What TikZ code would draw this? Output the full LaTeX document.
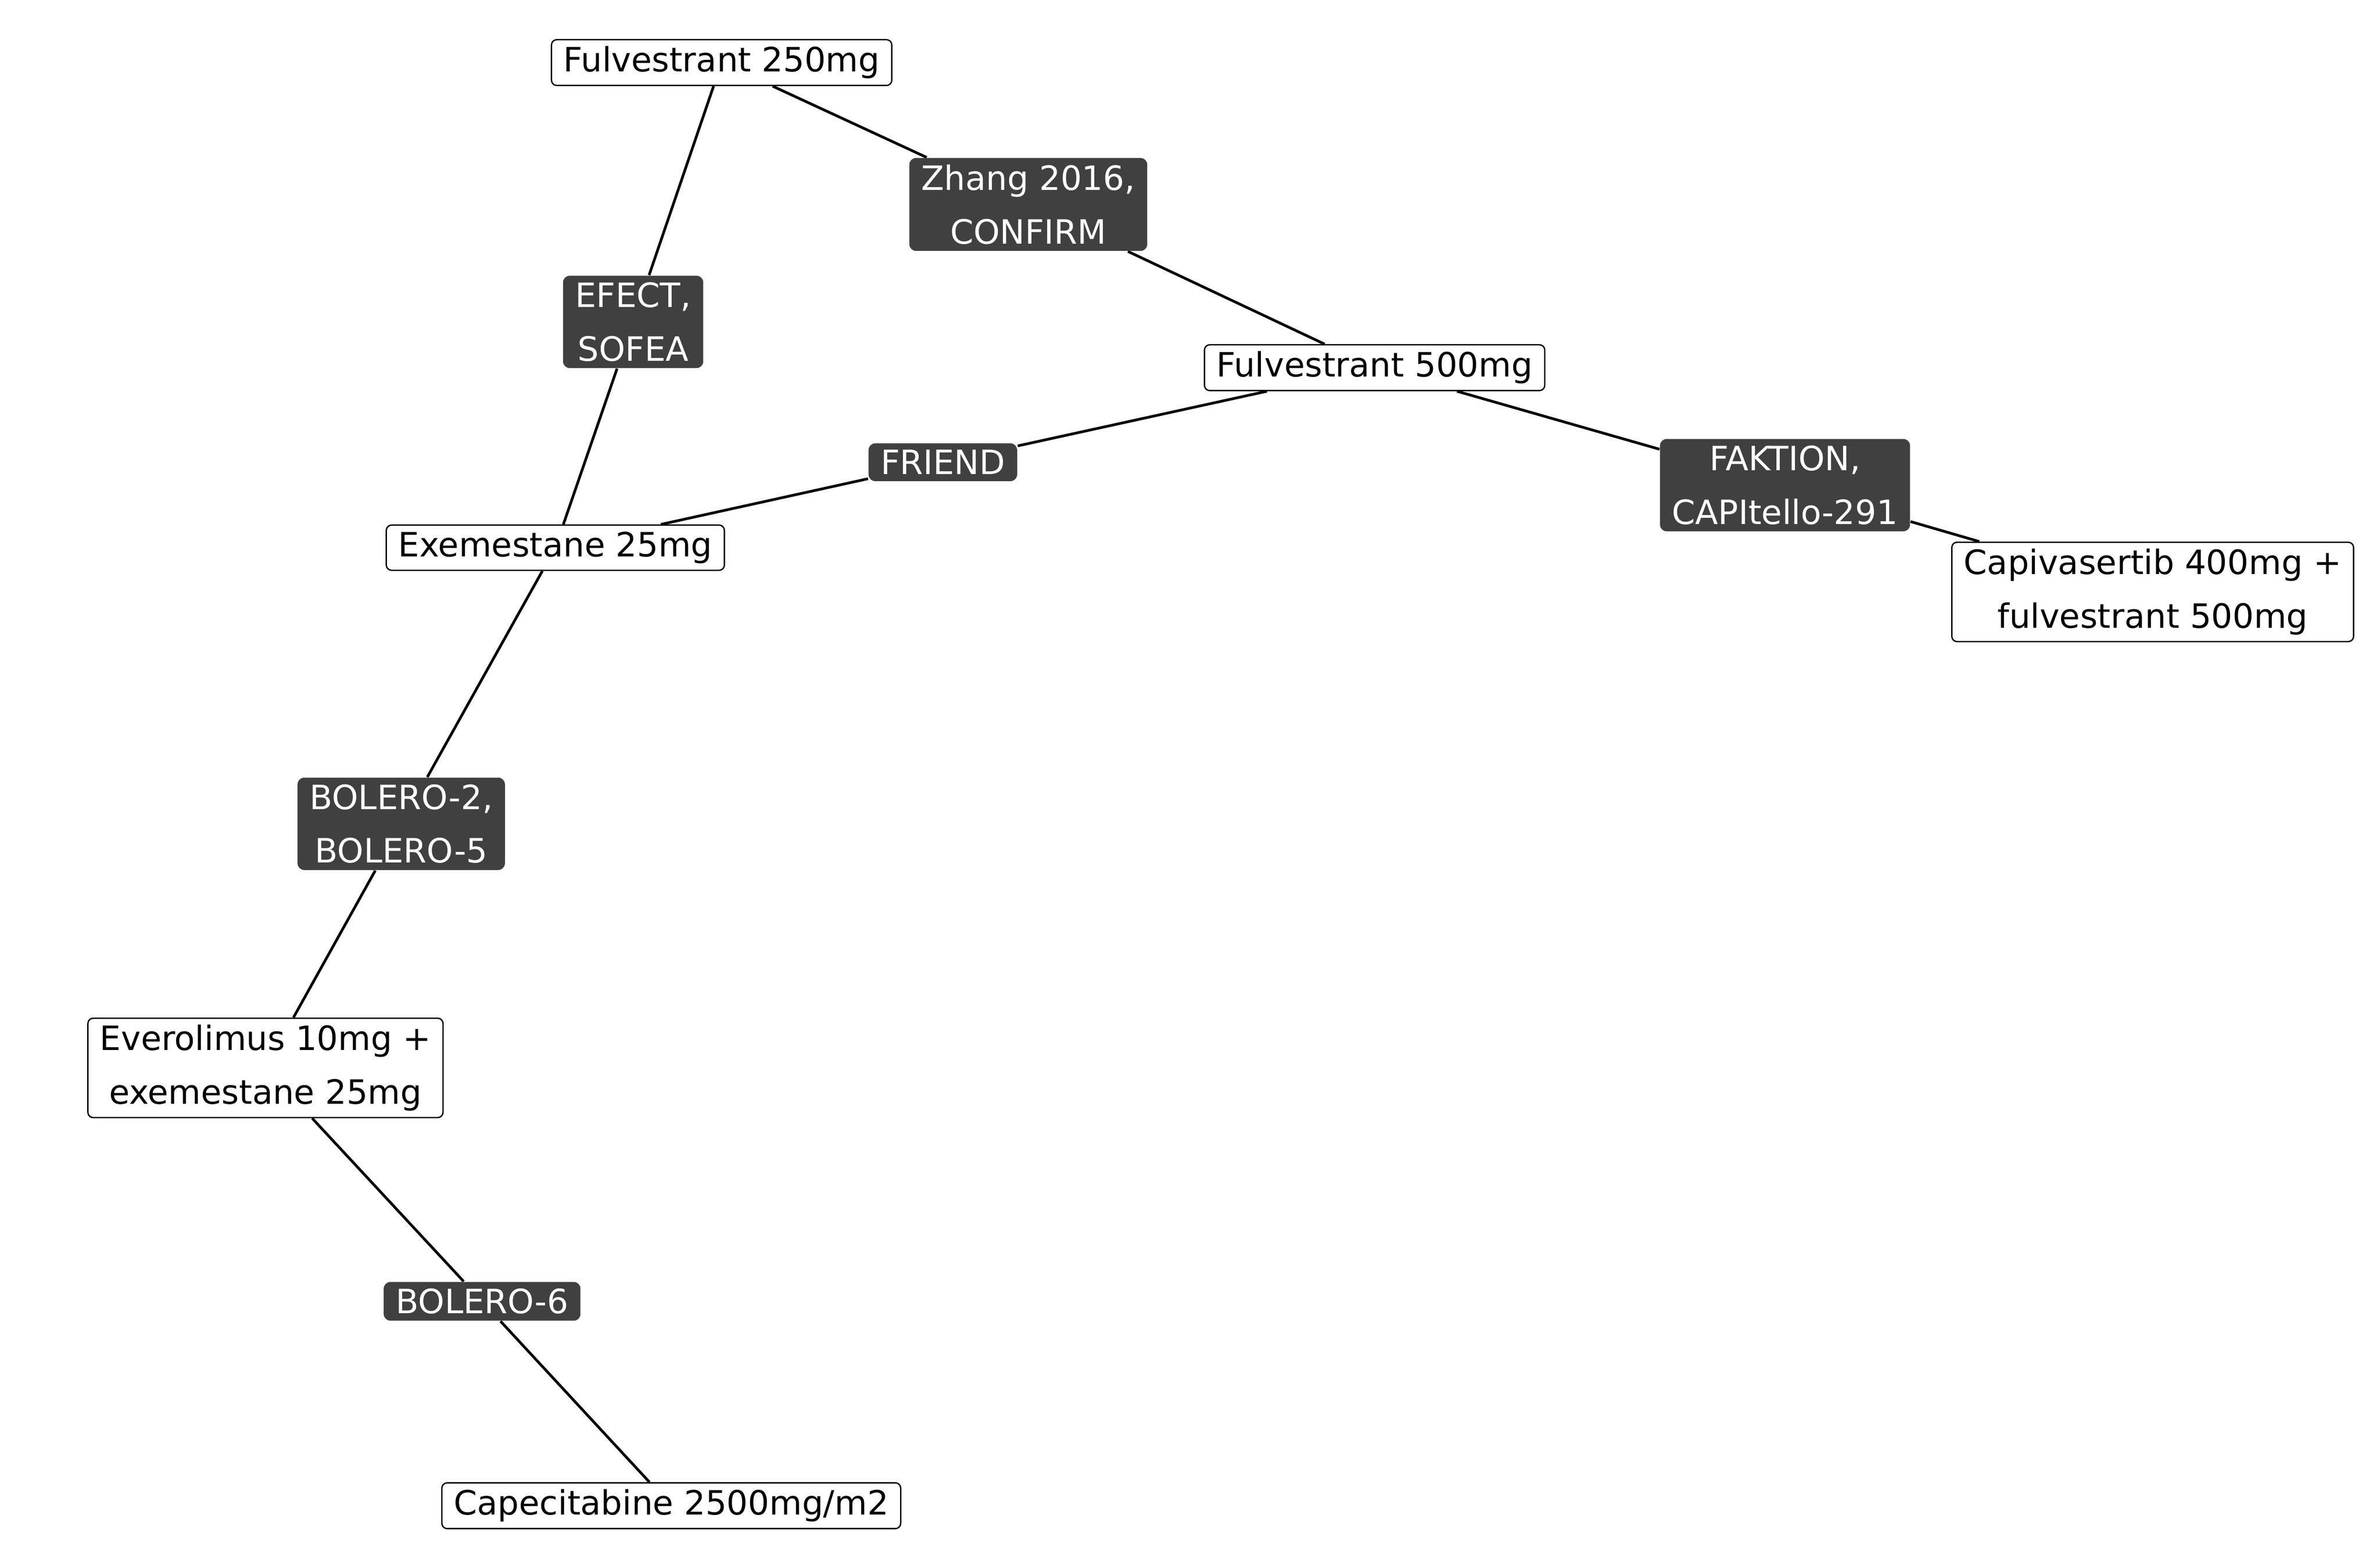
\documentclass[tikz,border=0pt]{standalone}
\usepackage{fontspec}
\setmainfont{DejaVu Sans}
\usetikzlibrary{backgrounds}
\definecolor{trialgray}{HTML}{404040}
\tikzset{
  drug/.style={draw=black, fill=white, rounded corners=2pt, line width=0.5pt, align=center,
    inner xsep=4.5pt, inner ysep=2.5pt, font=\fontsize{12.5}{20}\selectfont},
  trial/.style={fill=trialgray, text=white, rounded corners=2.5pt, align=center,
    inner xsep=4.5pt, inner ysep=2.5pt, font=\fontsize{12.5}{20}\selectfont},
  link/.style={line width=1pt, black}
}
\begin{document}
\begin{tikzpicture}[x=0.02cm, y=-0.02cm]
\useasboundingbox (0,0) rectangle (1560,1019);
\node[drug] (f250) at (473,41) {Fulvestrant 250mg};
\node[drug] (f500) at (901,241) {Fulvestrant 500mg};
\node[drug] (exe) at (364,359) {Exemestane 25mg};
\node[drug] (capi) at (1411,388) {Capivasertib 400mg +\\ fulvestrant 500mg};
\node[drug] (evero) at (174,700) {Everolimus 10mg +\\ exemestane 25mg};
\node[drug] (cape) at (440,987) {Capecitabine 2500mg/m2};
\node[trial] (zhang) at (674,134) {Zhang 2016,\\CONFIRM};
\node[trial] (efect) at (415,211) {EFECT,\\SOFEA};
\node[trial] (friend) at (618,303) {FRIEND};
\node[trial] (faktion) at (1170,318) {FAKTION,\\CAPItello-291};
\node[trial] (bolero2) at (263,540) {BOLERO-2,\\BOLERO-5};
\node[trial] (bolero6) at (316,853) {BOLERO-6};
\begin{scope}[on background layer]
\draw[link] (f250) -- (zhang) -- (f500);
\draw[link] (f250) -- (efect) -- (exe);
\draw[link] (exe) -- (friend) -- (f500);
\draw[link] (f500) -- (faktion) -- (capi);
\draw[link] (exe) -- (bolero2) -- (evero);
\draw[link] (evero) -- (bolero6) -- (cape);
\end{scope}
\end{tikzpicture}
\end{document}
